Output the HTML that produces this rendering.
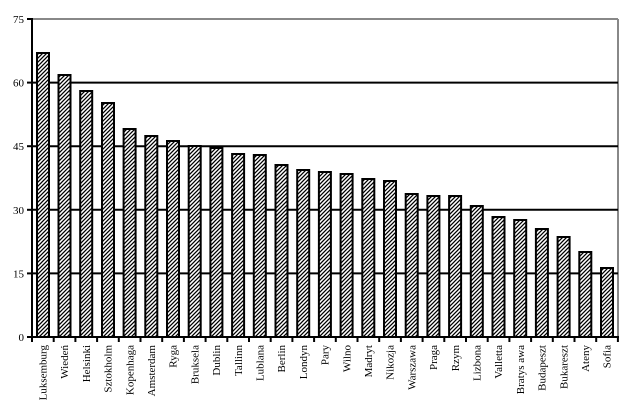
<!DOCTYPE html>
<html><head><style>body{margin:0;background:#fff}svg{display:block}text{font-family:"Liberation Serif",serif;font-size:11px;fill:#000}</style></head><body>
<svg width="632" height="414" viewBox="0 0 632 414">
<defs><pattern id="h" width="4" height="4" patternUnits="userSpaceOnUse"><rect width="4" height="4" fill="#fff"/><path d="M-1,1 L1,-1 M0,4 L4,0 M3,5 L5,3" stroke="#000" stroke-width="1.3"/></pattern></defs>
<line x1="32" y1="19" x2="618" y2="19" stroke="#888" stroke-width="2"/>
<line x1="618" y1="19" x2="618" y2="337" stroke="#888" stroke-width="2"/>
<g stroke="#000" stroke-width="2">
<line x1="32" y1="82.6" x2="618" y2="82.6"/><line x1="32" y1="146.2" x2="618" y2="146.2"/><line x1="32" y1="209.8" x2="618" y2="209.8"/><line x1="32" y1="273.4" x2="618" y2="273.4"/>
</g>
<g fill="url(#h)" stroke="#000" stroke-width="2">
<rect x="37" y="53" width="12" height="284"/><rect x="58.5" y="75" width="12" height="262"/><rect x="80.2" y="91" width="12" height="246"/><rect x="102" y="103" width="12" height="234"/><rect x="123.6" y="129" width="12" height="208"/><rect x="145.3" y="136" width="12" height="201"/><rect x="167" y="141" width="12" height="196"/><rect x="188.7" y="146" width="12" height="191"/><rect x="210.4" y="148" width="12" height="189"/><rect x="232.1" y="154" width="12" height="183"/><rect x="253.8" y="155" width="12" height="182"/><rect x="275.5" y="165" width="12" height="172"/><rect x="297.2" y="170" width="12" height="167"/><rect x="318.9" y="172" width="12" height="165"/><rect x="340.6" y="174" width="12" height="163"/><rect x="362.3" y="179" width="12" height="158"/><rect x="384" y="181" width="12" height="156"/><rect x="405.7" y="194" width="12" height="143"/><rect x="427.4" y="196" width="12" height="141"/><rect x="449.1" y="196" width="12" height="141"/><rect x="470.8" y="206" width="12" height="131"/><rect x="492.5" y="217" width="12" height="120"/><rect x="514.2" y="220" width="12" height="117"/><rect x="535.9" y="229" width="12" height="108"/><rect x="557.6" y="237" width="12" height="100"/><rect x="579.3" y="252" width="12" height="85"/><rect x="601" y="268" width="12" height="69"/>
</g>
<g stroke="#000" stroke-width="2">
<line x1="32" y1="18" x2="32" y2="338"/><line x1="31" y1="337" x2="619" y2="337"/>
<line x1="27" y1="19" x2="32" y2="19"/><line x1="27" y1="82.6" x2="32" y2="82.6"/><line x1="27" y1="146.2" x2="32" y2="146.2"/><line x1="27" y1="209.8" x2="32" y2="209.8"/><line x1="27" y1="273.4" x2="32" y2="273.4"/><line x1="27" y1="337" x2="32" y2="337"/>
<path d="M32 337v5M53.7 337v5M75.4 337v5M97.1 337v5M118.8 337v5M140.5 337v5M162.2 337v5M183.9 337v5M205.6 337v5M227.3 337v5M249 337v5M270.7 337v5M292.4 337v5M314.1 337v5M335.8 337v5M357.5 337v5M379.2 337v5M400.9 337v5M422.6 337v5M444.3 337v5M466 337v5M487.7 337v5M509.4 337v5M531.1 337v5M552.8 337v5M574.5 337v5M596.2 337v5M617.9 337v5"/>
</g>
<g text-anchor="end">
<text x="24" y="23">75</text><text x="24" y="86.6">60</text><text x="24" y="150.2">45</text><text x="24" y="213.8">30</text><text x="24" y="277.4">15</text><text x="24" y="341">0</text>
</g>
<g text-anchor="end">
<text transform="translate(46.5,345) rotate(-90)">Luksemburg</text>
<text transform="translate(68.2,345) rotate(-90)">Wiedeń</text>
<text transform="translate(89.9,345) rotate(-90)">Helsinki</text>
<text transform="translate(111.6,345) rotate(-90)">Sztokholm</text>
<text transform="translate(133.3,345) rotate(-90)">Kopenhaga</text>
<text transform="translate(155,345) rotate(-90)">Amsterdam</text>
<text transform="translate(176.7,345) rotate(-90)">Ryga</text>
<text transform="translate(198.4,345) rotate(-90)">Bruksela</text>
<text transform="translate(220.1,345) rotate(-90)">Dublin</text>
<text transform="translate(241.8,345) rotate(-90)">Tallinn</text>
<text transform="translate(263.5,345) rotate(-90)">Lublana</text>
<text transform="translate(285.2,345) rotate(-90)">Berlin</text>
<text transform="translate(306.9,345) rotate(-90)">Londyn</text>
<text transform="translate(328.6,345) rotate(-90)">Pary</text>
<text transform="translate(350.3,345) rotate(-90)">Wilno</text>
<text transform="translate(372,345) rotate(-90)">Madryt</text>
<text transform="translate(393.7,345) rotate(-90)">Nikozja</text>
<text transform="translate(415.4,345) rotate(-90)">Warszawa</text>
<text transform="translate(437.1,345) rotate(-90)">Praga</text>
<text transform="translate(458.8,345) rotate(-90)">Rzym</text>
<text transform="translate(480.5,345) rotate(-90)">Lizbona</text>
<text transform="translate(502.2,345) rotate(-90)">Valletta</text>
<text transform="translate(523.9,345) rotate(-90)">Bratys  awa</text>
<text transform="translate(545.6,345) rotate(-90)">Budapeszt</text>
<text transform="translate(567.3,345) rotate(-90)">Bukareszt</text>
<text transform="translate(589,345) rotate(-90)">Ateny</text>
<text transform="translate(610.7,345) rotate(-90)">Sofia</text>
</g>
</svg>
</body></html>
